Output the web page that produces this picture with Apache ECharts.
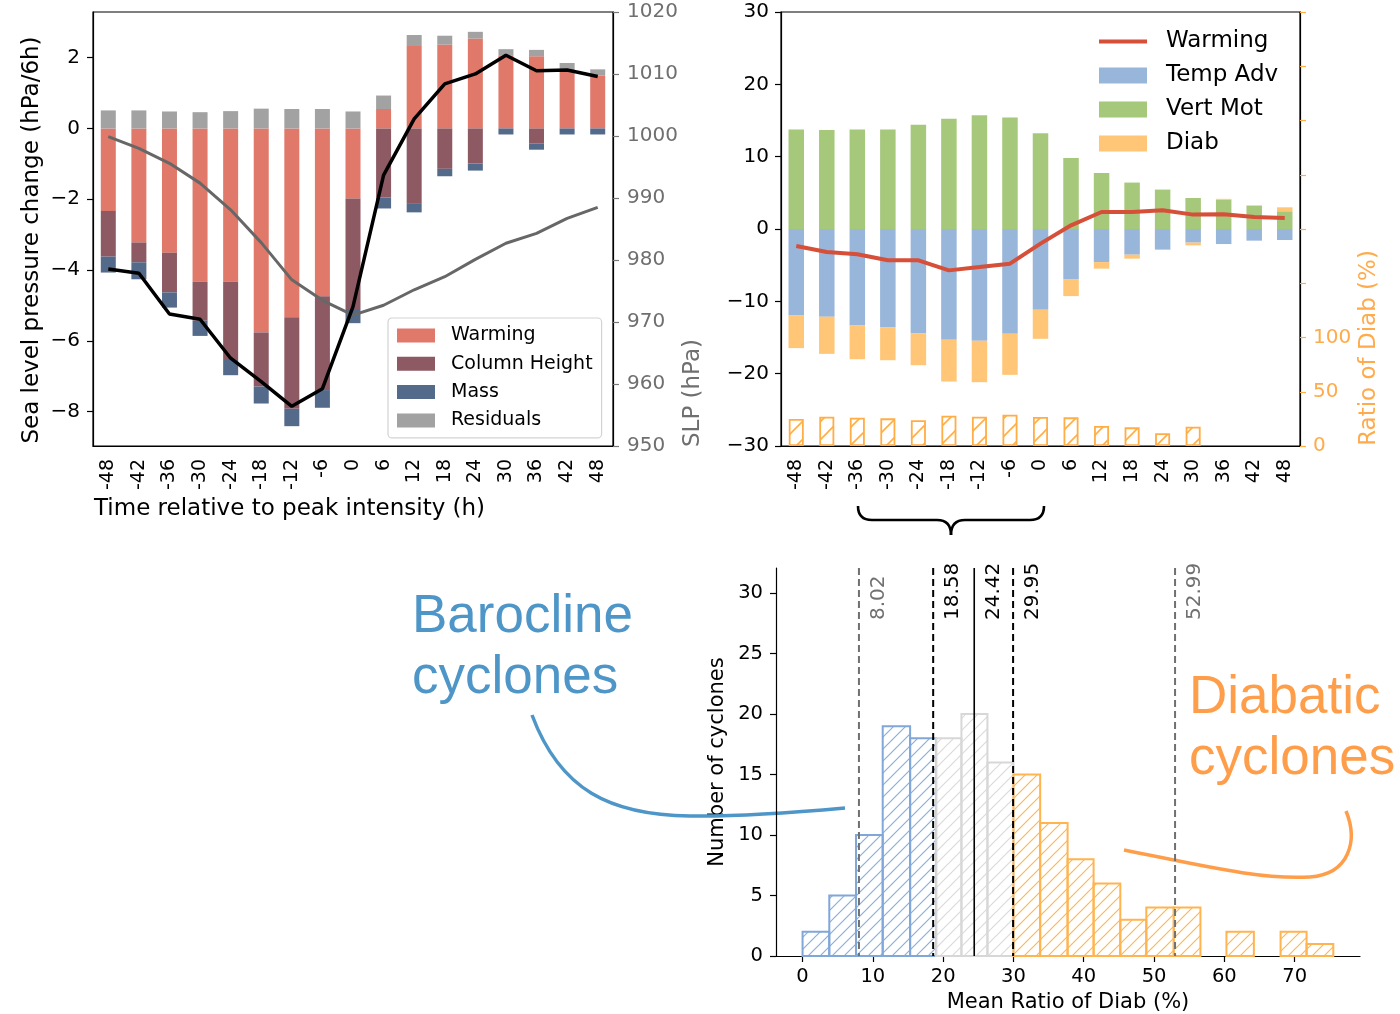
<!DOCTYPE html>
<html>
<head>
<meta charset="utf-8">
<script src="https://cdn.jsdelivr.net/npm/echarts@6/dist/echarts.min.js"></script>
<style>
  html, body { margin: 0; padding: 0; background: #fff; }
  #chart { width: 1400px; height: 1014px; }
</style>
</head>
<body>
<div id="chart"></div>
<script>
// ---- Composite decomposition (hours relative to peak intensity) ----
const hours = ['-48', '-42', '-36', '-30', '-24', '-18', '-12', '-6', '0', '6', '12', '18', '24', '30', '36', '42', '48'];

// Sea level pressure tendency terms (hPa/6h)
const warming      = [-2.33, -3.22, -3.51, -4.33, -4.33, -5.76, -5.33, -4.74, -1.98, 0.55, 2.33, 2.37, 2.54, 2.07, 2.04, 1.68, 1.49];
const columnHeight = [-1.29, -0.56, -1.12, -1.10, -2.21, -1.53, -2.59, -2.65, -3.12, -1.95, -2.11, -1.14, -0.99, 0, -0.43, 0, 0];
const mass         = [-0.45, -0.48, -0.43, -0.43, -0.43, -0.48, -0.49, -0.50, -0.40, -0.31, -0.26, -0.21, -0.20, -0.17, -0.17, -0.17, -0.17];
const residuals    = [0.51, 0.51, 0.48, 0.46, 0.49, 0.56, 0.55, 0.55, 0.48, 0.38, 0.31, 0.25, 0.19, 0.17, 0.18, 0.17, 0.18];
const slpTendency  = [-3.97, -4.09, -5.24, -5.39, -6.49, -7.15, -7.85, -7.35, -5.03, -1.32, 0.27, 1.26, 1.54, 2.07, 1.63, 1.65, 1.47];
const slp          = [999.9, 998.0, 995.6, 992.4, 988.1, 982.8, 976.8, 973.5, 971.1, 972.7, 975.2, 977.3, 980.1, 982.7, 984.3, 986.7, 988.5];

// Warming decomposition
const warmingTotal = [-2.35, -3.18, -3.50, -4.33, -4.33, -5.72, -5.26, -4.79, -2.02, 0.51, 2.35, 2.35, 2.59, 1.99, 2.03, 1.66, 1.52];
const tempAdv      = [-11.95, -12.13, -13.33, -13.57, -14.40, -15.32, -15.45, -14.48, -11.16, -6.92, -4.57, -3.55, -2.85, -1.88, -2.08, -1.61, -1.52];
const vertMot      = [13.76, 13.67, 13.76, 13.76, 14.40, 15.23, 15.74, 15.42, 13.25, 9.83, 7.75, 6.42, 5.45, 4.29, 4.07, 3.18, 2.45];
const diab         = [-4.52, -5.13, -4.67, -4.57, -4.43, -5.77, -5.73, -5.68, -4.02, -2.36, -0.91, -0.55, -0.05, -0.38, 0.10, 0.10, 0.55];
const diabRatio    = [24.9, 27.0, 26.1, 25.5, 23.7, 27.9, 27.0, 28.9, 26.7, 26.4, 18.4, 17.2, 11.7, 17.8, null, null, null];

// Histogram of mean Diab ratio
const binEdges  = [0.0, 3.8, 7.6, 11.4, 15.3, 19.0, 22.6, 26.3, 30.0, 33.8, 37.7, 41.4, 45.2, 48.9, 52.8, 56.6, 60.3, 64.2, 68.0, 71.7, 75.5];
const binCounts = [2, 5, 10, 19, 18, 18, 20, 16, 15, 11, 8, 6, 3, 4, 4, 0, 2, 0, 2, 1];
const binGroup  = ['baro', 'baro', 'baro', 'baro', 'baro', 'mid', 'mid', 'mid', 'diab', 'diab', 'diab', 'diab', 'diab', 'diab', 'diab', 'diab', 'diab', 'diab', 'diab', 'diab'];
const refLines  = [8.02, 18.58, 24.42, 29.95, 52.99];
const refKinds  = ['outer', 'inner', 'median', 'inner', 'outer'];

// Tick labels
const leftTicks  = [-8, -6, -4, -2, 0, 2];
const ratioTicks = [0, 50, 100];
const countTicks = [0, 5, 10, 15, 20, 25, 30];
const ratioXTicks = [0, 10, 20, 30, 40, 50, 60, 70];

// ---- helpers ----
const FONT = 'DejaVu Sans';
const minus = v => String(v).replace('-', '\u2212');
const plain = v => String(v);

function hatchCanvas(lineColor, spacing, lw) {
  const c = document.createElement('canvas');
  c.width = spacing; c.height = spacing;
  const g = c.getContext('2d');
  g.strokeStyle = lineColor;
  g.lineWidth = lw;
  g.beginPath();
  g.moveTo(0, spacing); g.lineTo(spacing, 0);
  g.moveTo(-spacing / 2, spacing / 2); g.lineTo(spacing / 2, -spacing / 2);
  g.moveTo(spacing / 2, spacing * 1.5); g.lineTo(spacing * 1.5, spacing / 2);
  g.stroke();
  return { image: c, repeat: 'repeat' };
}

const C = {
  warm: '#E0796A', col: '#8D5A63', mass: '#546A8B', res: '#A2A2A2',
  warmLine: '#D64F38', temp: '#98B5DA', vert: '#A6C87B', diab: '#FFC677', ratio: '#FFAD45',
  slpText: '#6F6F6F', ratioText: '#FFAB4C'
};
const histEdge  = { baro: '#80A7D8', mid: '#D7D7D7', diab: '#FFB44F' };
const histFill  = {
  baro: hatchCanvas('#8AAFDC', 12, 1.2),
  mid:  hatchCanvas('#DADADA', 12, 1.2),
  diab: hatchCanvas('#FFB755', 12, 1.2)
};
const ratioFill = hatchCanvas(C.ratio, 18, 1.6);

const axisFont = { fontFamily: FONT, color: '#000' };
const blackLine = { show: true, onZero: false, lineStyle: { color: '#000', width: 1.2 } };

function curve(x1, y1, cpx1, cpy1, cpx2, cpy2, x2, y2, color, width) {
  const shape = { x1, y1, cpx1, cpy1, x2, y2 };
  if (cpx2 !== null) { shape.cpx2 = cpx2; shape.cpy2 = cpy2; }
  return { type: 'bezierCurve', shape, style: { stroke: color, lineWidth: width, fill: null } };
}
function seg(x1, y1, x2, y2, color, width) {
  return { type: 'line', shape: { x1, y1, x2, y2 }, style: { stroke: color, lineWidth: width } };
}
function title(text, x, y, size, color, rotated, align) {
  return { type: 'text', x, y, rotation: rotated ? Math.PI / 2 : 0,
    style: { text, font: size + 'px "DejaVu Sans"', fill: color, align: align || 'center', verticalAlign: 'middle' } };
}

const chart = echarts.init(document.getElementById('chart'), null, { renderer: 'canvas' });

const option = {
  backgroundColor: '#fff',
  animation: false,
  textStyle: { fontFamily: FONT },
  grid: [
    { left: 93, top: 12, width: 520, height: 434, show: true, borderColor: '#000', borderWidth: 1.2, backgroundColor: 'transparent', outerBoundsMode: 'none' },
    { left: 781, top: 12, width: 519, height: 434, show: true, borderColor: '#000', borderWidth: 1.2, backgroundColor: 'transparent', outerBoundsMode: 'none' },
    { left: 776, top: 568, width: 584, height: 388, show: false, outerBoundsMode: 'none' }
  ],
  xAxis: [
    {
      type: 'category', gridIndex: 0, data: hours, boundaryGap: true,
      axisLine: blackLine,
      axisTick: { alignWithLabel: true, length: 6, lineStyle: { color: '#000', width: 1.2 } },
      axisLabel: { rotate: 90, fontSize: 19, margin: 13, ...axisFont, interval: 0 },
      splitLine: { show: false }
    },
    {
      type: 'category', gridIndex: 1, data: hours, boundaryGap: true,
      axisLine: blackLine,
      axisTick: { alignWithLabel: true, length: 6, lineStyle: { color: '#000', width: 1.2 } },
      axisLabel: { rotate: 90, fontSize: 19, margin: 13, ...axisFont, interval: 0 },
      splitLine: { show: false }
    },
    {
      type: 'value', gridIndex: 2, min: -3.78, max: 79.3,
      axisLine: blackLine,
      axisTick: { show: true, length: 6, customValues: ratioXTicks, lineStyle: { color: '#000', width: 1.2 } },
      axisLabel: { fontSize: 19.5, margin: 11, customValues: ratioXTicks, ...axisFont },
      splitLine: { show: false }
    },
    {
      type: 'category', gridIndex: 1, data: hours, boundaryGap: true, show: false
    }
  ],
  yAxis: [
    {
      type: 'value', gridIndex: 0, min: -8.97, max: 3.29, position: 'left',
      axisLine: blackLine,
      axisTick: { show: true, length: 6, customValues: leftTicks, lineStyle: { color: '#000', width: 1.2 } },
      axisLabel: { fontSize: 20, margin: 13, customValues: leftTicks, formatter: minus, ...axisFont },
      splitLine: { show: false }
    },
    {
      type: 'value', gridIndex: 0, min: 950, max: 1020, interval: 10, position: 'right',
      axisLine: blackLine,
      axisTick: { show: true, length: 6, lineStyle: { color: '#777', width: 1.2 } },
      axisLabel: { fontSize: 20, margin: 14, formatter: plain, fontFamily: FONT, color: C.slpText },
      splitLine: { show: false }
    },
    {
      type: 'value', gridIndex: 1, min: -30, max: 30, interval: 10, position: 'left',
      axisLine: blackLine,
      axisTick: { show: true, length: 6, lineStyle: { color: '#000', width: 1.2 } },
      axisLabel: { fontSize: 20, margin: 12, formatter: minus, ...axisFont },
      splitLine: { show: false }
    },
    {
      type: 'value', gridIndex: 1, min: 0, max: 400, interval: 50, position: 'right',
      axisLine: blackLine,
      axisTick: { show: true, length: 6, lineStyle: { color: C.ratio, width: 1.2 } },
      axisLabel: { fontSize: 20, margin: 13, customValues: ratioTicks, formatter: plain, fontFamily: FONT, color: C.ratioText },
      splitLine: { show: false }
    },
    {
      type: 'value', gridIndex: 2, min: 0, max: 32.07,
      axisLine: blackLine,
      axisTick: { show: true, length: 6, customValues: countTicks, lineStyle: { color: '#000', width: 1.2 } },
      axisLabel: { fontSize: 19.5, margin: 13, customValues: countTicks, ...axisFont },
      splitLine: { show: false }
    }
  ],
  legend: [
    {
      left: 388, top: 318, orient: 'vertical',
      padding: [8, 9, 8, 9], itemGap: 9.3, itemWidth: 38, itemHeight: 14,
      borderColor: '#D3D3D3', borderWidth: 1.2, borderRadius: 4, backgroundColor: 'rgba(255,255,255,0.85)',
      textStyle: { fontFamily: FONT, fontSize: 19, color: '#000', padding: [0, 0, 0, 11] },
      data: [
        { name: 'Warming', icon: 'rect' },
        { name: 'Column Height', icon: 'rect' },
        { name: 'Mass', icon: 'rect' },
        { name: 'Residuals', icon: 'rect' }
      ],
      selectedMode: false
    },
    {
      left: 1099, top: 30, orient: 'vertical',
      padding: 0, itemGap: 11, itemWidth: 48, itemHeight: 16,
      textStyle: { fontFamily: FONT, fontSize: 23, color: '#000', padding: [0, 0, 0, 14] },
      data: [
        { name: 'Warming', icon: 'path://M0 0H48V4H0Z', itemStyle: { color: C.warmLine, borderWidth: 0 } },
        { name: 'Temp Adv', icon: 'rect' },
        { name: 'Vert Mot', icon: 'rect' },
        { name: 'Diab', icon: 'rect' }
      ],
      selectedMode: false
    }
  ],
  series: [
    // left panel: stacked tendency terms
    { name: 'Warming', type: 'bar', xAxisIndex: 0, yAxisIndex: 0, stack: 'slp', barWidth: 15, data: warming, itemStyle: { color: C.warm } },
    { name: 'Column Height', type: 'bar', xAxisIndex: 0, yAxisIndex: 0, stack: 'slp', barWidth: 15, data: columnHeight, itemStyle: { color: C.col } },
    { name: 'Mass', type: 'bar', xAxisIndex: 0, yAxisIndex: 0, stack: 'slp', barWidth: 15, data: mass, itemStyle: { color: C.mass } },
    { name: 'Residuals', type: 'bar', xAxisIndex: 0, yAxisIndex: 0, stack: 'slp', barWidth: 15, data: residuals, itemStyle: { color: C.res } },
    { name: 'SLP', type: 'line', xAxisIndex: 0, yAxisIndex: 1, data: slp, symbol: 'none', lineStyle: { color: '#676767', width: 3 }, z: 3 },
    { name: 'dSLP', type: 'line', xAxisIndex: 0, yAxisIndex: 0, data: slpTendency, symbol: 'none', lineStyle: { color: '#000', width: 3.5 }, z: 4 },

    // right panel: warming decomposition
    { name: 'Temp Adv', type: 'bar', xAxisIndex: 1, yAxisIndex: 2, stack: 'warm', barWidth: 15.5, data: tempAdv, itemStyle: { color: C.temp } },
    { name: 'Vert Mot', type: 'bar', xAxisIndex: 1, yAxisIndex: 2, stack: 'warm', barWidth: 15.5, data: vertMot, itemStyle: { color: C.vert } },
    { name: 'Diab', type: 'bar', xAxisIndex: 1, yAxisIndex: 2, stack: 'warm', barWidth: 15.5, data: diab, itemStyle: { color: C.diab } },
    { name: 'Diab ratio', type: 'bar', xAxisIndex: 3, yAxisIndex: 3, barWidth: 15, data: diabRatio,
      itemStyle: { color: ratioFill, borderColor: C.ratio, borderWidth: 1.8 } },
    { name: 'Warming total', type: 'line', xAxisIndex: 1, yAxisIndex: 2, data: warmingTotal, symbol: 'none',
      lineStyle: { color: C.warmLine, width: 4 }, z: 4 },

    // bottom panel: histogram
    {
      name: 'hist', type: 'custom', xAxisIndex: 2, yAxisIndex: 4,
      data: binCounts.map((n, i) => [binEdges[i], binEdges[i + 1], n, i]),
      renderItem: function (params, api) {
        const n = api.value(2);
        if (!n) return null;
        const g = binGroup[api.value(3)];
        const tl = api.coord([api.value(0), n]);
        const br = api.coord([api.value(1), 0]);
        return {
          type: 'rect',
          shape: { x: tl[0], y: tl[1], width: br[0] - tl[0], height: br[1] - tl[1] },
          style: { fill: histFill[g], stroke: histEdge[g], lineWidth: 2 }
        };
      },
      z: 2
    },
    {
      name: 'quantiles', type: 'custom', xAxisIndex: 2, yAxisIndex: 4,
      data: refLines.map((v, i) => [v, i]),
      renderItem: function (params, api) {
        const v = api.value(0);
        const kind = refKinds[api.value(1)];
        const cs = params.coordSys;
        const x = api.coord([v, 0])[0];
        const color = kind === 'outer' ? '#707070' : '#000';
        const dash = kind === 'median' ? null : [7, 4];
        return {
          type: 'group',
          children: [
            { type: 'line', shape: { x1: x, y1: cs.y, x2: x, y2: cs.y + cs.height },
              style: { stroke: color, lineWidth: kind === 'median' ? 1.6 : 2, lineDash: dash } },
            { type: 'text', x: x + 19.5, y: 620, rotation: Math.PI / 2,
              style: { text: v.toFixed(2), fill: color, font: '20px "DejaVu Sans"', align: 'left', verticalAlign: 'middle' } }
          ]
        };
      },
      z: 3
    }
  ],
  graphic: [
    // axis titles
    title('Sea level pressure change (hPa/6h)', 32, 240, 23, '#000', true),
    title('Time relative to peak intensity (h)', 94, 509, 23, '#000', false, 'left'),
    title('SLP (hPa)', 693, 393, 23, C.slpText, true),
    title('Ratio of Diab (%)', 1369, 348, 23, C.ratioText, true),
    title('Number of cyclones', 718, 762, 21, '#000', true),
    title('Mean Ratio of Diab (%)', 1068, 1003, 21, '#000', false),

    // brace linking the -36..0 window to the histogram
    curve(858, 506, 858, 520, null, null, 872, 520, '#000', 2.6),
    seg(872, 520, 937, 520, '#000', 2.6),
    curve(937, 520, 951, 520, null, null, 951, 535, '#000', 2.6),
    curve(951, 535, 951, 520, null, null, 965, 520, '#000', 2.6),
    seg(965, 520, 1030, 520, '#000', 2.6),
    curve(1030, 520, 1044, 520, null, null, 1044, 506, '#000', 2.6),

    // cyclone type annotations
    { type: 'text', x: 412, y: 617, style: { text: 'Barocline', font: '53px "Liberation Sans"', fill: '#4E96C8', align: 'left', verticalAlign: 'middle' } },
    { type: 'text', x: 412, y: 678, style: { text: 'cyclones', font: '53px "Liberation Sans"', fill: '#4E96C8', align: 'left', verticalAlign: 'middle' } },
    curve(532, 715, 560, 790, 610, 815, 690, 816, '#4E96C8', 3.5),
    curve(690, 816, 740, 817, 800, 812, 845, 808, '#4E96C8', 3.5),
    { type: 'text', x: 1189, y: 698, style: { text: 'Diabatic', font: '53px "Liberation Sans"', fill: '#FF9E4A', align: 'left', verticalAlign: 'middle' } },
    { type: 'text', x: 1189, y: 759, style: { text: 'cyclones', font: '53px "Liberation Sans"', fill: '#FF9E4A', align: 'left', verticalAlign: 'middle' } },
    curve(1124, 850, 1200, 865, 1260, 880, 1310, 877, '#FF9E4A', 3.5),
    curve(1310, 877, 1350, 874, 1358, 840, 1346, 811, '#FF9E4A', 3.5)
  ]
};

chart.setOption(option);
</script>
</body>
</html>
